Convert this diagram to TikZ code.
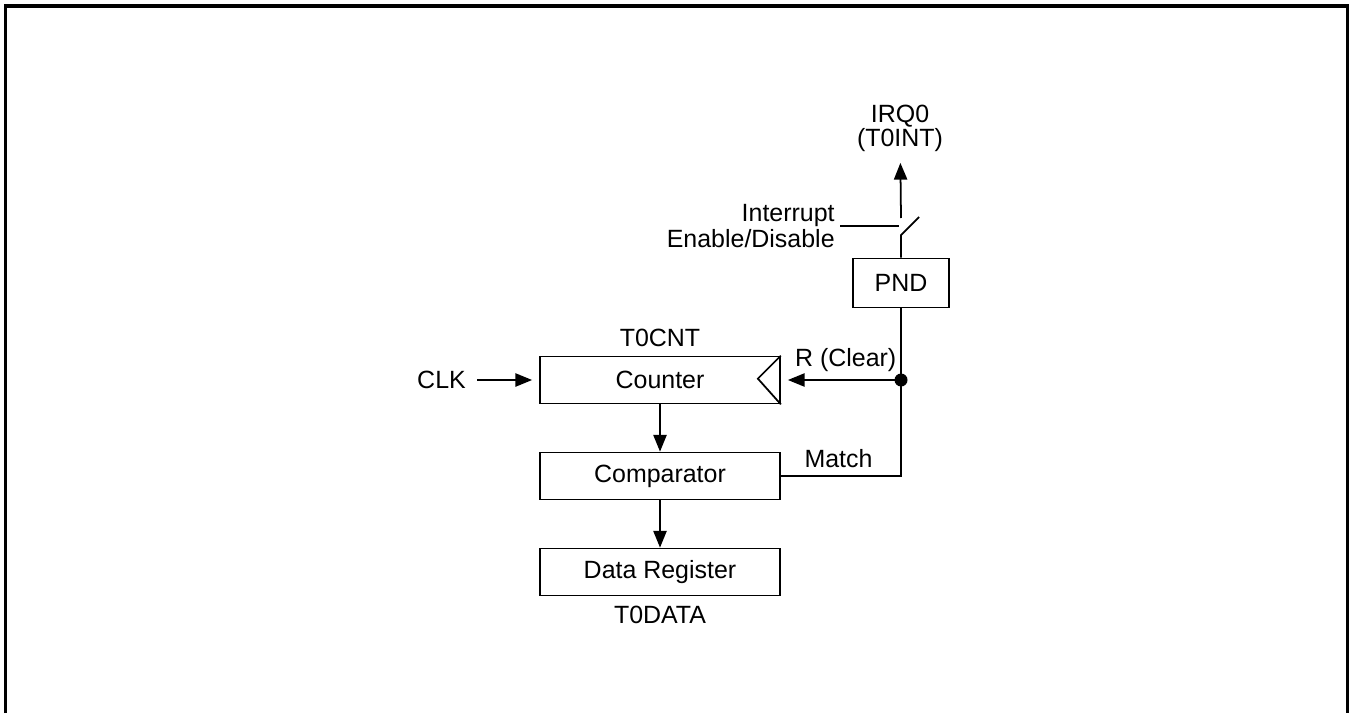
\documentclass[tikz,border=0pt]{standalone}
\usepackage{fontspec}
\setmainfont{Liberation Sans}
\usetikzlibrary{arrows.meta}

\begin{document}
\begin{tikzpicture}[x=0.02cm,y=-0.02cm,
  every node/.style={font=\fontsize{14.2}{13.8}\selectfont},
  blk/.style={draw,line width=1pt,minimum width=4.8cm,minimum height=0.94cm,inner sep=0pt},
  wire/.style={line width=1pt},
  sig/.style={-{Triangle[length=9.5pt,width=7.5pt]},line width=1pt}]
\useasboundingbox (0,0) rectangle (1354,713);
\draw [line width=1.9pt] (5.7,713) -- (5.7,6) -- (1347.7,6) -- (1347.7,713);
\node [blk] (Cnt) at (660,380) {Counter};
 \node [blk] (Cmp) at (660,476) {Comparator};
 \node [blk] (Dat) at (660,572) {Data Register};
 \node [blk,minimum width=1.92cm,minimum height=0.98cm] (Pnd) at (901,283) {PND};
\node (CntName) at (660,338) {T0CNT};
 \node (DatName) at (660,615) {T0DATA};
 \node (Clk) at (441.5,380) {CLK};
 \node [align=center] (Irq) at (900,128) {IRQ0\\(T0INT)};
 \node [align=right,anchor=east,inner sep=0pt,font=\fontsize{14.2}{15.3}\selectfont] (Ien) at (835,226) {Interrupt\\Enable/Disable};
\coordinate (Jn) at (901,380);
 \coordinate (Sw0) at (901,235);
 \coordinate (Sw1) at (919,217);
 \coordinate (Sw2) at (901,218);
 \coordinate (En) at (899,226);
\draw [wire] (Cnt.north east) -- ++(-23,23) -- (Cnt.south east);
 \draw [sig,shorten <=3pt,shorten >=4pt] (Clk) -- (Cnt);
 \draw [sig] (Cnt) -- (Cmp);
 \draw [sig] (Cmp) -- (Dat);
 \draw [sig,shorten >=4pt] (Jn) -- (Cnt.east) node [pos=0.46,above=1pt] {R (Clear)};
 \draw [wire] (Cmp.east) -| (Pnd.south) node [pos=0.24,above=1pt] {Match};
 \fill (Jn) circle (6.5);
 \draw [wire] (Pnd.north) -- (Sw0) -- (Sw1);
 \draw [sig,shorten >=3pt] (Sw2) -- (Irq);
 \draw [wire,shorten <=3pt] (Ien.east) -- (En);
 \end{tikzpicture}
\end{document}
